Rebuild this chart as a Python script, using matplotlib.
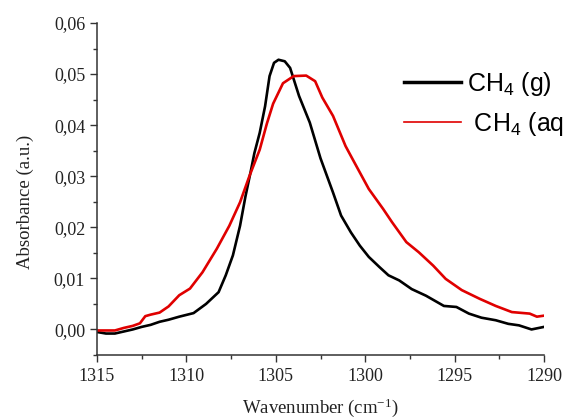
import matplotlib
matplotlib.use('Agg')
import matplotlib.pyplot as plt
from matplotlib.lines import Line2D
from matplotlib.ticker import MultipleLocator, FuncFormatter

# wavenumber (cm-1) and absorbance
wn_gas = [1315.0, 1314.5, 1314.0, 1313.5, 1313.0, 1312.5, 1312.0, 1311.5, 1311.0, 1310.4,
          1309.6, 1308.9, 1308.2, 1307.8, 1307.4, 1307.0, 1306.7, 1306.4, 1306.2, 1305.9,
          1305.6, 1305.35, 1305.1, 1304.85, 1304.5, 1304.2, 1303.7, 1303.1, 1302.5, 1301.8,
          1301.35, 1300.8, 1300.3, 1299.8, 1299.2, 1298.7, 1298.1, 1297.4, 1296.6, 1296.0,
          1295.6, 1294.9, 1294.2, 1293.5, 1292.7, 1292.0, 1291.4, 1290.7, 1290.0]
abs_gas = [-0.0005, -0.0008, -0.0008, -0.0004, 0.0, 0.0005, 0.0009, 0.0015, 0.0019, 0.0025,
           0.0032, 0.005, 0.0073, 0.0106, 0.0145, 0.0203, 0.026, 0.031, 0.0345, 0.0385,
           0.0437, 0.0496, 0.0522, 0.0528, 0.0525, 0.0512, 0.0457, 0.0405, 0.0335, 0.0268,
           0.0223, 0.019, 0.0164, 0.0142, 0.0122, 0.0106, 0.0096, 0.0079, 0.0066, 0.0054,
           0.0046, 0.0044, 0.0031, 0.0023, 0.0018, 0.0011, 0.0008, 0.0, 0.0005]

wn_aq = [1315.0, 1314.5, 1314.0, 1313.5, 1313.0, 1312.6, 1312.3, 1312.0, 1311.5, 1311.0,
         1310.4, 1309.8, 1309.1, 1308.3, 1307.6, 1307.0, 1306.5, 1306.2, 1305.9, 1305.5,
         1305.15, 1304.6, 1304.0, 1303.3, 1302.8, 1302.4, 1301.8, 1301.1, 1300.7, 1299.8,
         1299.0, 1298.5, 1297.7, 1297.0, 1296.2, 1295.5, 1294.6, 1293.6, 1292.7, 1291.8,
         1290.8, 1290.4, 1290.0]
abs_aq = [-0.0002, -0.0002, -0.0002, 0.0003, 0.0007, 0.0012, 0.0026, 0.0029, 0.0033, 0.0045,
          0.0067, 0.008, 0.0112, 0.0158, 0.0203, 0.0249, 0.0298, 0.0325, 0.0352, 0.0403,
          0.0442, 0.0482, 0.0496, 0.0497, 0.0486, 0.0454, 0.0418, 0.0359, 0.0333, 0.0275,
          0.0236, 0.021, 0.0171, 0.0151, 0.0125, 0.0099, 0.0077, 0.006, 0.0046, 0.0034,
          0.0031, 0.0025, 0.0027]

labels = ['$\\mathregular{CH_4}$ (g)', ' $\\mathregular{CH_4}$ (aq)']

plt.rcParams['font.family'] = ['Liberation Serif', 'DejaVu Serif']

fig = plt.figure(figsize=(5.63, 4.2), dpi=100)
ax = fig.add_axes([0.1723, 0.1548, 0.794, 0.7905])

ax.plot(wn_gas, abs_gas, color='black', lw=1.9)
ax.plot(wn_aq, abs_aq, color='#e00000', lw=1.9)

ax.set_xlim(1315, 1290)
ax.set_ylim(-0.005, 0.06)
ax.xaxis.set_major_locator(MultipleLocator(5))
ax.xaxis.set_minor_locator(MultipleLocator(2.5))
ax.yaxis.set_major_locator(MultipleLocator(0.01))
ax.yaxis.set_minor_locator(MultipleLocator(0.005))
ax.yaxis.set_major_formatter(FuncFormatter(lambda v, p: f'{v:.2f}'.replace('.', ',')))
ax.xaxis.set_major_formatter(FuncFormatter(lambda v, p: f'{v:.0f}'))

ax.spines['top'].set_visible(False)
ax.spines['right'].set_visible(False)
for s in ['left', 'bottom']:
    ax.spines[s].set_color('#333333')
    ax.spines[s].set_linewidth(1.1)
ax.tick_params(which='major', direction='out', length=5, width=1, colors='#333333',
               labelsize=13, labelcolor='#222222')
ax.tick_params(axis='x', which='major', pad=4.5)
ax.tick_params(which='minor', direction='out', length=3, width=1, colors='#333333')

ax.set_xlabel('Wavenumber (cm$\\mathregular{^{-1}}$)', fontsize=13.5, color='#222222')
ax.set_ylabel('Absorbance (a.u.)', fontsize=13.5, color='#222222')
ax.yaxis.set_label_coords(-0.14, 0.46)
ax.xaxis.set_label_coords(0.5, -0.125)

# legend handles: thick black, thin red like the original
handles = [Line2D([], [], color='black', lw=2.5), Line2D([], [], color='#e00000', lw=1.2)]
leg = fig.legend(handles, labels, loc='upper left', bbox_to_anchor=(0.677, 0.888),
                 frameon=False, handlelength=2.28, handletextpad=0.24, labelspacing=0.49,
                 prop={'family': 'Liberation Sans', 'size': 18})

fig.savefig('out.png', dpi=100)
